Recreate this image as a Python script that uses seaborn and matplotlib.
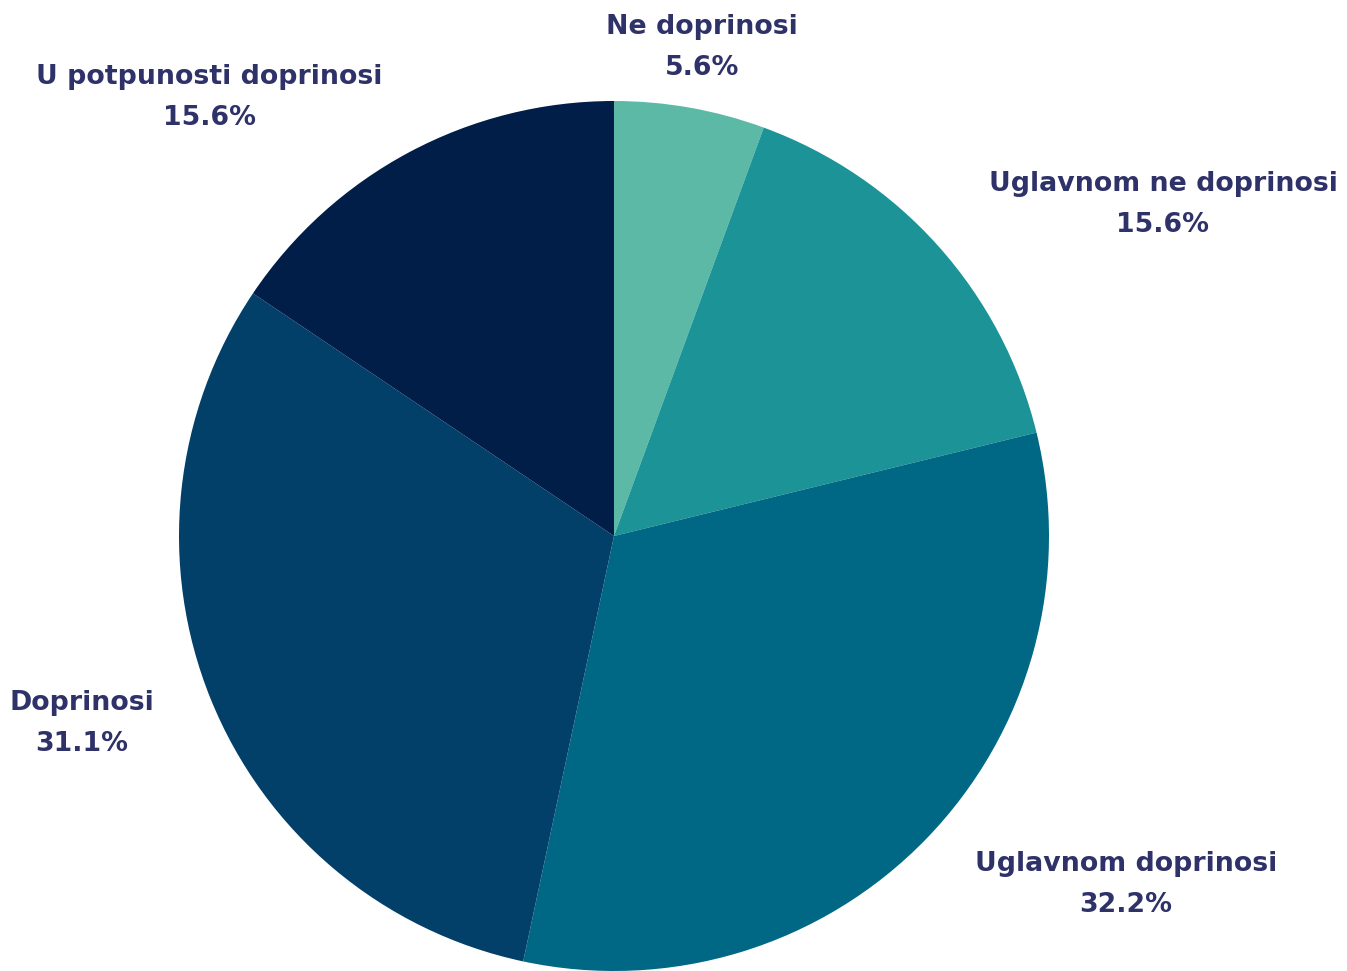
import matplotlib
matplotlib.use("Agg")
import matplotlib.pyplot as plt
import seaborn as sns

# podaci
kategorije = ['Ne doprinosi', 'Uglavnom ne doprinosi', 'Uglavnom doprinosi',
              'Doprinosi', 'U potpunosti doprinosi']
postoci = [5.6, 15.6, 32.2, 31.1, 15.6]
boje = ['#5bb9a6', '#1b9397', '#006884', '#023f69', '#001e48']

# pozicije oznaka (u jedinicama radijusa)
pozicije_oznaka = [(0.202, 1.124), (1.262, 0.761), (1.177, -0.80),
                   (-1.223, -0.432), (-0.931, 1.009)]

sns.set_theme(style="white")
plt.rcParams['font.family'] = ['DejaVu Sans']

fig = plt.figure(figsize=(13.47, 9.71), dpi=100)
ax = fig.add_axes([0, 0, 1, 1])

ax.pie(postoci, colors=boje, startangle=90, counterclock=False,
       radius=1.0, wedgeprops={'linewidth': 0})

for naziv, vrijednost, (x, y) in zip(kategorije, postoci, pozicije_oznaka):
    ax.text(x, y, f"{naziv}\n{vrijednost:.1f}%", ha='center', va='center',
            fontsize=19.3, fontweight='bold', color='#2e3269', linespacing=1.75)

ax.set_xlim(-614 / 435, (1347 - 614) / 435)
ax.set_ylim(-1.0, (971 - 435) / 435)
ax.set_aspect('auto')
ax.axis('off')

fig.savefig("out.png", dpi=100, facecolor='white')
